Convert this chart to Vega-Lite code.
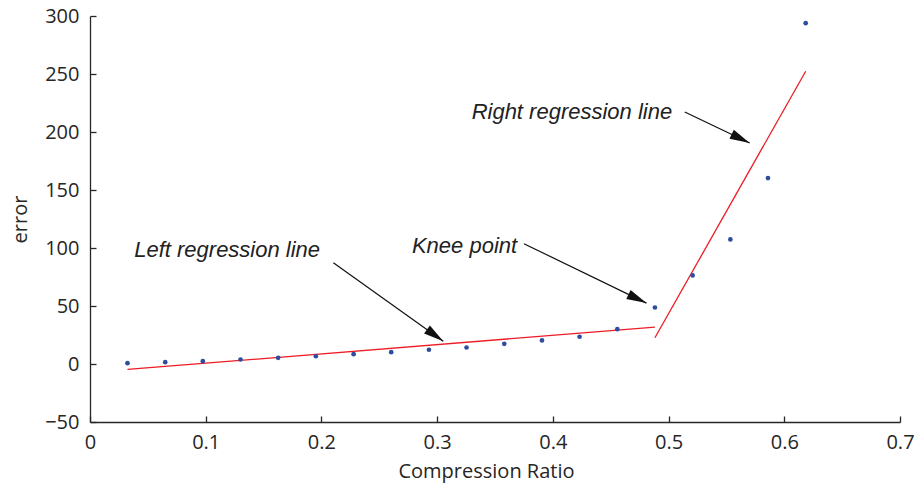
{
  "$schema": "https://vega.github.io/schema/vega-lite/v6.json",
  "autosize": "none",
  "width": 810,
  "height": 406,
  "padding": {"left": 90, "top": 16, "right": 15, "bottom": 64},
  "background": "white",
  "config": {
    "view": {"stroke": null},
    "axis": {
      "grid": false,
      "labelFlush": false,
      "domainColor": "#262626",
      "domainWidth": 1.3,
      "tickColor": "#262626",
      "tickWidth": 1.3,
      "tickSize": -6,
      "labelFont": "Open Sans",
      "labelFontSize": 20,
      "labelColor": "#262626",
      "titleFont": "Open Sans",
      "titleFontSize": 20,
      "titleFontWeight": "normal",
      "titleColor": "#262626"
    }
  },
  "datasets": {
    "samples": [
      {"ratio": 0.0324, "error": 0.7},
      {"ratio": 0.0650, "error": 1.6},
      {"ratio": 0.0975, "error": 2.4},
      {"ratio": 0.1301, "error": 3.9},
      {"ratio": 0.1626, "error": 5.3},
      {"ratio": 0.1952, "error": 6.7},
      {"ratio": 0.2278, "error": 8.5},
      {"ratio": 0.2603, "error": 10.2},
      {"ratio": 0.2929, "error": 12.3},
      {"ratio": 0.3254, "error": 14.2},
      {"ratio": 0.3580, "error": 17.4},
      {"ratio": 0.3906, "error": 20.3},
      {"ratio": 0.4231, "error": 23.5},
      {"ratio": 0.4557, "error": 30.0},
      {"ratio": 0.4882, "error": 48.7},
      {"ratio": 0.5208, "error": 76.4},
      {"ratio": 0.5534, "error": 107.4},
      {"ratio": 0.5859, "error": 160.3},
      {"ratio": 0.6185, "error": 293.8}
    ],
    "fits": [
      {"segment": "left", "ratio": 0.0324, "error": -4.7},
      {"segment": "left", "ratio": 0.4882, "error": 31.8},
      {"segment": "right", "ratio": 0.4882, "error": 22.6},
      {"segment": "right", "ratio": 0.6185, "error": 252.4}
    ],
    "notes": [
      {"label": "Left regression line", "ratio": 0.0382, "error": 92.1},
      {"label": "Knee point", "ratio": 0.2782, "error": 95.9},
      {"label": "Right regression line", "ratio": 0.3298, "error": 211.6}
    ],
    "arrows": [
      {"name": "left", "ratio": 0.2103, "error": 87.3, "ratio2": 0.3053, "error2": 19.7},
      {"name": "knee", "ratio": 0.3750, "error": 103.7, "ratio2": 0.4809, "error2": 52.5},
      {"name": "right", "ratio": 0.5140, "error": 217.3, "ratio2": 0.5701, "error2": 190.5}
    ]
  },
  "encoding": {
    "x": {
      "field": "ratio",
      "type": "quantitative",
      "scale": {"domain": [0, 0.7], "nice": false, "zero": false},
      "axis": {"title": "Compression Ratio", "values": [0, 0.1, 0.2, 0.3, 0.4, 0.5, 0.6, 0.7], "format": "~g", "labelPadding": 16, "titlePadding": 9, "titleX": 396}
    },
    "y": {
      "field": "error",
      "type": "quantitative",
      "scale": {"domain": [-50, 300], "nice": false, "zero": false},
      "axis": {"title": "error", "values": [-50, 0, 50, 100, 150, 200, 250, 300], "labelPadding": 17, "titlePadding": 14}
    }
  },
  "layer": [
    {
      "data": {"name": "fits"},
      "mark": {"type": "line", "color": "#ee1c25", "strokeWidth": 1.3},
      "encoding": {"detail": {"field": "segment"}}
    },
    {
      "data": {"name": "samples"},
      "mark": {"type": "point", "filled": true, "shape": "circle", "size": 22, "color": "#2f4d9e", "opacity": 1}
    },
    {
      "data": {"name": "notes"},
      "mark": {"type": "text", "align": "left", "baseline": "alphabetic", "font": "Liberation Sans", "fontStyle": "italic", "fontSize": 22, "color": "#222222"},
      "encoding": {"text": {"field": "label"}}
    },
    {
      "data": {"name": "arrows"},
      "mark": {"type": "rule", "color": "#111111", "strokeWidth": 1.2},
      "encoding": {
        "x2": {"field": "ratio2"},
        "y2": {"field": "error2"}
      }
    },
    {
      "data": {"name": "arrows"},
      "transform": [{"filter": "datum.name === 'left'"}],
      "mark": {"type": "point", "filled": true, "opacity": 1, "color": "#111111", "shape": "M0,0 L-0.5,2 L0.5,2 Z", "size": 400, "angle": 125.5},
      "encoding": {
        "x": {"field": "ratio2", "type": "quantitative"},
        "y": {"field": "error2", "type": "quantitative"}
      }
    },
    {
      "data": {"name": "arrows"},
      "transform": [{"filter": "datum.name !== 'left'"}],
      "mark": {"type": "point", "filled": true, "opacity": 1, "color": "#111111", "shape": "M0,0 L-0.5,2 L0.5,2 Z", "size": 400, "angle": 115.7},
      "encoding": {
        "x": {"field": "ratio2", "type": "quantitative"},
        "y": {"field": "error2", "type": "quantitative"}
      }
    }
  ]
}
